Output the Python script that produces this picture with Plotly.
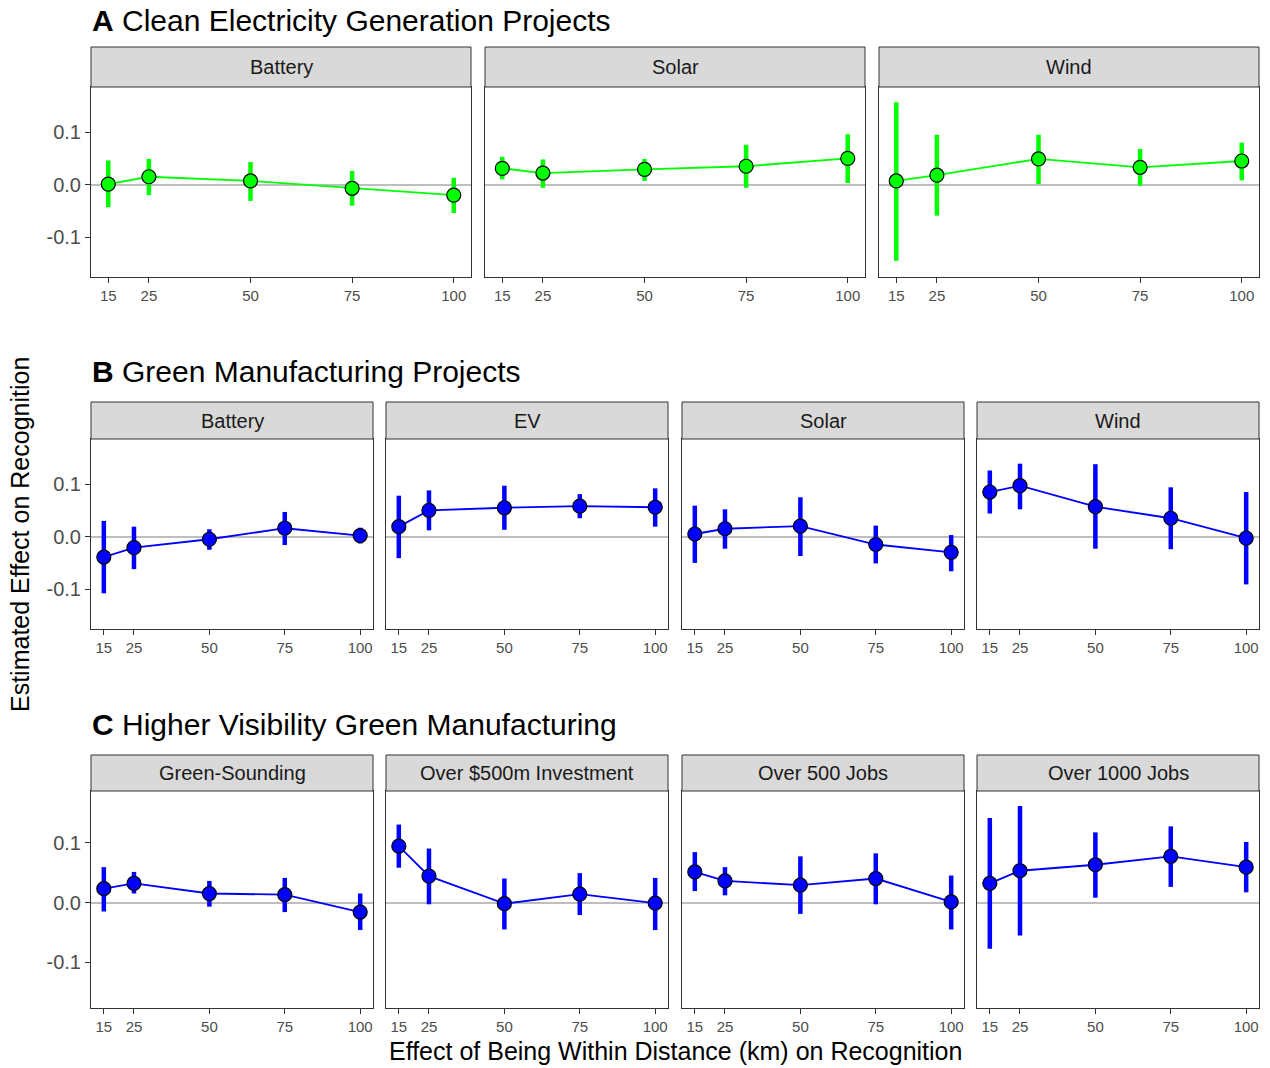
import plotly.graph_objects as go

# Distances (km) at which the effect is estimated
distance_km = [15, 25, 50, 75, 100]
x_tick_vals = [15, 25, 50, 75, 100]
y_tick_vals = [-0.1, 0.0, 0.1]
y_tick_text = ["-0.1", "0.0", "0.1"]

# A: Clean electricity generation projects
gen_battery_est = [0.001, 0.015, 0.007, -0.007, -0.020]
gen_battery_lo = [-0.043, -0.020, -0.031, -0.040, -0.054]
gen_battery_hi = [0.046, 0.049, 0.043, 0.026, 0.013]

gen_solar_est = [0.031, 0.022, 0.029, 0.035, 0.050]
gen_solar_lo = [0.010, -0.006, 0.007, -0.006, 0.003]
gen_solar_hi = [0.053, 0.048, 0.049, 0.076, 0.096]

gen_wind_est = [0.007, 0.018, 0.049, 0.033, 0.045]
gen_wind_lo = [-0.145, -0.059, 0.001, -0.002, 0.008]
gen_wind_hi = [0.157, 0.095, 0.095, 0.068, 0.080]

# B: Green manufacturing projects
mfg_battery_est = [-0.039, -0.021, -0.005, 0.016, 0.002]
mfg_battery_lo = [-0.108, -0.062, -0.025, -0.016, -0.013]
mfg_battery_hi = [0.030, 0.019, 0.014, 0.047, 0.017]

mfg_ev_est = [0.019, 0.050, 0.055, 0.058, 0.056]
mfg_ev_lo = [-0.041, 0.012, 0.013, 0.035, 0.019]
mfg_ev_hi = [0.078, 0.088, 0.097, 0.081, 0.092]

mfg_solar_est = [0.005, 0.015, 0.020, -0.015, -0.030]
mfg_solar_lo = [-0.050, -0.023, -0.037, -0.051, -0.066]
mfg_solar_hi = [0.059, 0.052, 0.075, 0.021, 0.003]

mfg_wind_est = [0.085, 0.097, 0.057, 0.035, -0.003]
mfg_wind_lo = [0.044, 0.052, -0.023, -0.024, -0.091]
mfg_wind_hi = [0.126, 0.139, 0.138, 0.094, 0.085]

# C: Higher visibility green manufacturing
vis_green_est = [0.023, 0.032, 0.015, 0.013, -0.016]
vis_green_lo = [-0.015, 0.015, -0.007, -0.016, -0.046]
vis_green_hi = [0.059, 0.051, 0.036, 0.041, 0.015]

vis_invest_est = [0.094, 0.044, -0.002, 0.014, -0.001]
vis_invest_lo = [0.058, -0.003, -0.045, -0.021, -0.046]
vis_invest_hi = [0.130, 0.090, 0.040, 0.049, 0.041]

vis_jobs500_est = [0.051, 0.036, 0.029, 0.040, 0.001]
vis_jobs500_lo = [0.019, 0.012, -0.019, -0.003, -0.045]
vis_jobs500_hi = [0.084, 0.059, 0.077, 0.082, 0.045]

vis_jobs1000_est = [0.032, 0.053, 0.063, 0.077, 0.059]
vis_jobs1000_lo = [-0.077, -0.055, 0.008, 0.026, 0.017]
vis_jobs1000_hi = [0.141, 0.161, 0.117, 0.127, 0.101]

GREEN = "#00FF00"
BLUE = "#0000FF"

rows = [
    ("A", "Clean Electricity Generation Projects", GREEN, [
        ("Battery", gen_battery_est, gen_battery_lo, gen_battery_hi),
        ("Solar", gen_solar_est, gen_solar_lo, gen_solar_hi),
        ("Wind", gen_wind_est, gen_wind_lo, gen_wind_hi),
    ]),
    ("B", "Green Manufacturing Projects", BLUE, [
        ("Battery", mfg_battery_est, mfg_battery_lo, mfg_battery_hi),
        ("EV", mfg_ev_est, mfg_ev_lo, mfg_ev_hi),
        ("Solar", mfg_solar_est, mfg_solar_lo, mfg_solar_hi),
        ("Wind", mfg_wind_est, mfg_wind_lo, mfg_wind_hi),
    ]),
    ("C", "Higher Visibility Green Manufacturing", BLUE, [
        ("Green-Sounding", vis_green_est, vis_green_lo, vis_green_hi),
        ("Over $500m Investment", vis_invest_est, vis_invest_lo, vis_invest_hi),
        ("Over 500 Jobs", vis_jobs500_est, vis_jobs500_lo, vis_jobs500_hi),
        ("Over 1000 Jobs", vis_jobs1000_est, vis_jobs1000_lo, vis_jobs1000_hi),
    ]),
]

# Page geometry in pixels
W, H = 1270, 1068
four_cols = [(91, 373), (386, 668), (682, 964), (977, 1259)]
row_geom = [
    dict(title_y=20, strip_top=47, plot_top=87, plot_bottom=277,
         cols=[(91, 471), (485, 865), (879, 1259)]),
    dict(title_y=372, strip_top=402, plot_top=439, plot_bottom=629, cols=four_cols),
    dict(title_y=724, strip_top=755, plot_top=791, plot_bottom=1008, cols=four_cols),
]

FONT = "Liberation Sans, Arial, Helvetica, sans-serif"
BORDER = "#333333"


def px_x(p):
    return p / W


def px_y(p):
    return 1 - p / H


fig = go.Figure()
layout = dict(
    width=W, height=H,
    margin=dict(l=0, r=0, t=0, b=0),
    paper_bgcolor="white", plot_bgcolor="white",
    showlegend=False,
    font=dict(family=FONT, color="#000000"),
)
shapes = []
annotations = []

idx = 0
for (letter, title, color, panels), geom in zip(rows, row_geom):
    annotations.append(dict(
        text=f"<b>{letter}</b> {title}", xref="paper", yref="paper",
        x=px_x(90), y=px_y(geom["title_y"]), xanchor="left", yanchor="middle",
        showarrow=False, font=dict(size=30, family=FONT, color="#000000"),
    ))
    for j, ((name, est, lo, hi), (x0, x1)) in enumerate(zip(panels, geom["cols"])):
        idx += 1
        xa = "x" if idx == 1 else f"x{idx}"
        ya = "y" if idx == 1 else f"y{idx}"
        xkey = "xaxis" if idx == 1 else f"xaxis{idx}"
        ykey = "yaxis" if idx == 1 else f"yaxis{idx}"

        # confidence intervals as thick vertical segments
        ex, ey = [], []
        for d, l, h in zip(distance_km, lo, hi):
            ex += [d, d, None]
            ey += [l, h, None]
        fig.add_trace(go.Scatter(
            x=ex, y=ey, mode="lines", xaxis=xa, yaxis=ya,
            line=dict(color=color, width=4.5), hoverinfo="skip",
        ))
        # point estimates joined by a line
        fig.add_trace(go.Scatter(
            x=distance_km, y=est, mode="lines+markers", xaxis=xa, yaxis=ya,
            line=dict(color=color, width=1.8),
            marker=dict(size=14, color=color, line=dict(color="#000000", width=1.2)),
        ))

        layout[xkey] = dict(
            domain=[px_x(x0), px_x(x1)], anchor=ya, range=[10.75, 104.25],
            tickmode="array", tickvals=x_tick_vals, ticktext=[str(v) for v in x_tick_vals],
            ticks="outside", ticklen=5, tickwidth=1.2, tickcolor=BORDER,
            tickfont=dict(size=15, color="#4D4D4D", family=FONT),
            showgrid=False, zeroline=False,
            showline=True, mirror=True, linecolor=BORDER, linewidth=1,
        )
        layout[ykey] = dict(
            domain=[px_y(geom["plot_bottom"]), px_y(geom["plot_top"])], anchor=xa,
            range=[-0.176, 0.186],
            tickmode="array", tickvals=y_tick_vals, ticktext=y_tick_text,
            showticklabels=(j == 0),
            ticks="outside" if j == 0 else "", ticklen=5, tickwidth=1.2, tickcolor=BORDER,
            tickfont=dict(size=20, color="#4D4D4D", family=FONT),
            showgrid=False,
            zeroline=True, zerolinecolor="#BEBEBE", zerolinewidth=1.5,
            showline=True, mirror=True, linecolor=BORDER, linewidth=1,
        )

        # facet strip
        shapes.append(dict(
            type="rect", xref="paper", yref="paper",
            x0=px_x(x0), x1=px_x(x1), y0=px_y(geom["plot_top"]), y1=px_y(geom["strip_top"]),
            fillcolor="#D9D9D9", line=dict(color=BORDER, width=1), layer="above",
        ))
        annotations.append(dict(
            text=name, xref="paper", yref="paper",
            x=px_x((x0 + x1) / 2), y=px_y((geom["strip_top"] + geom["plot_top"]) / 2),
            xanchor="center", yanchor="middle", showarrow=False,
            font=dict(size=20, color="#1A1A1A", family=FONT),
        ))

# shared axis titles
annotations.append(dict(
    text="Estimated Effect on Recognition", xref="paper", yref="paper",
    x=px_x(20), y=px_y(535), xanchor="center", yanchor="middle", textangle=-90,
    showarrow=False, font=dict(size=25, color="#000000", family=FONT),
))
annotations.append(dict(
    text="Effect of Being Within Distance (km) on Recognition", xref="paper", yref="paper",
    x=px_x(675), y=px_y(1051), xanchor="center", yanchor="middle",
    showarrow=False, font=dict(size=25, color="#000000", family=FONT),
))

layout["shapes"] = shapes
layout["annotations"] = annotations
fig.update_layout(**layout)
fig.write_html("out.html")
